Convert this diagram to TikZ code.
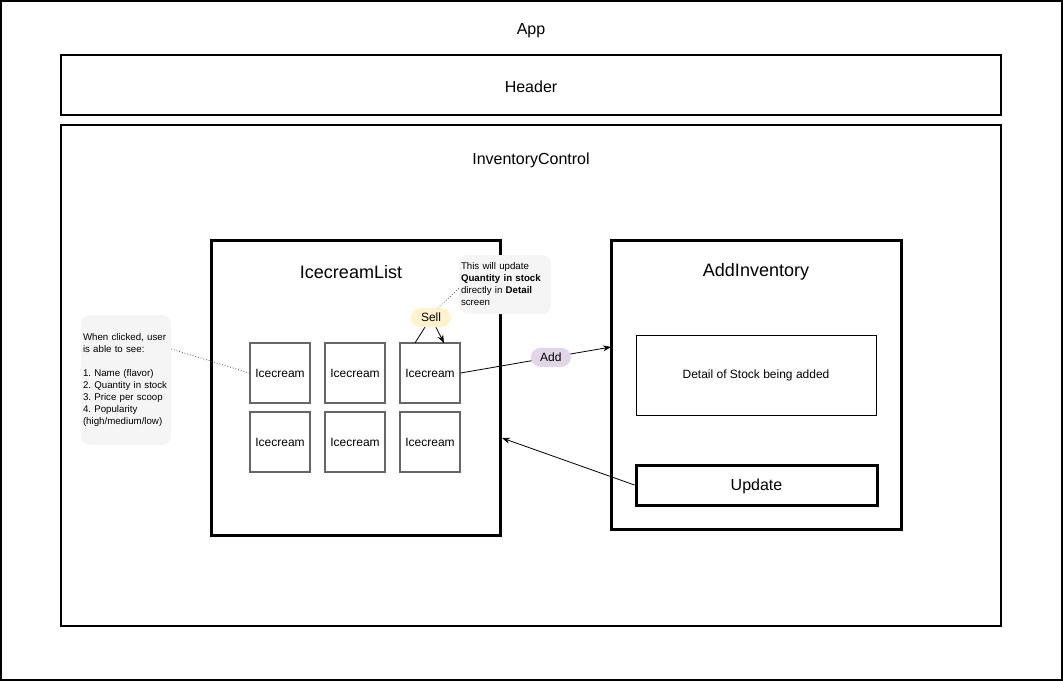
\documentclass[tikz,border=0pt]{standalone}
\usepackage{fontspec}
\setmainfont{Liberation Sans}
\usetikzlibrary{positioning,arrows.meta}
\definecolor{notegray}{HTML}{F5F5F5}
\definecolor{sellyellow}{HTML}{FFF2CC}
\definecolor{addpurple}{HTML}{E1D5E7}

\begin{document}
\frenchspacing
\begin{tikzpicture}[x=1pt, y=-1pt, every node/.style={font=\fontsize{12}{14}\selectfont},
    frame/.style={draw, line width=2pt, inner sep=0pt},
    bigframe/.style={draw, line width=3pt, inner sep=0pt},
    title/.style={font=\fontsize{16}{19}\selectfont},
    icebox/.style={draw=black!60, line width=1.2pt, minimum width=60pt, minimum height=60pt, inner sep=0pt},
    note/.style={fill=notegray, rounded corners=9pt, align=left, inner sep=2pt,
        font=\fontsize{9.7}{12}\selectfont},
    badge/.style={rounded corners=9.5pt, minimum width=40pt, minimum height=19pt, inner sep=0pt},
    link/.style={-{Stealth[length=8pt,width=6pt]}, line width=0.8pt},
    hint/.style={dotted, line width=0.8pt, black!70}]
    \useasboundingbox (0,0) rectangle (1063,681);
    % containers
    \node[draw, line width=1.5pt, minimum width=1061pt, minimum height=679pt] (app) at (531.5,340.5) {};
    \node[title] (apptitle) at (531,30.5) {App};
    \node[frame, minimum width=940pt, minimum height=60pt] (header) at (531,85) {};
    \node[title] (headertitle) at (531,87) {Header};
    \node[frame, minimum width=940pt, minimum height=501pt] (inventory) at (531,375.5) {};
    \node[title] (inventorytitle) at (531,160) {InventoryControl};
    \node[bigframe, minimum width=289pt, minimum height=295pt] (icelist) at (355.5,387.5) {};
    \node[font=\fontsize{18}{21}\selectfont] (icelisttitle) at (351,272) {IcecreamList};
    \node[bigframe, minimum width=290pt, minimum height=289pt] (addinv) at (756,384.5) {};
    \node[font=\fontsize{18}{21}\selectfont] (addinvtitle) at (756,272) {AddInventory};
    % icecreams
    \foreach \x/\n in {280/1,355/2,430/3} {
        \node[icebox] (top\n) at (\x,373) {Icecream};
        \node[icebox] (bot\n) at (\x,442) {Icecream};
    }
    \node[draw, line width=1pt, minimum width=240pt, minimum height=80pt] (detail) at (756,375) {Detail of Stock being added};
    \node[bigframe, minimum width=241pt, minimum height=40pt] (update) at (756.5,485) {};
    \node[title] (updatetitle) at (756.5,486) {Update};
    % notes
    \node[note, text width=86pt, minimum height=130pt] (leftnote) at (126,380) {When clicked, user\\is able to see:\\[12pt]1. Name (flavor)\\2. Quantity in stock\\3. Price per scoop\\4. Popularity\\(high/medium/low)};
    \node[note, text width=88pt, minimum height=59pt] (topnote) at (505,284.5) {This will update\\\textbf{Quantity in stock}\\directly in \textbf{Detail}\\screen};
    % connectors
    \coordinate (sellfrom) at (415,343);
    \coordinate (sellto) at (444,343);
    \coordinate (addto) at (611,347);
    \coordinate (updateto) at (502,438);
    \draw[line width=0.8pt] (sellfrom) -- (431,317.5);
    \draw[link] (431,317.5) -- (sellto);
    \node[badge, fill=sellyellow] (sell) at (431,317.5) {Sell};
    \draw[link] (top3.east) -- (addto) node[pos=0.6, badge, fill=addpurple] (add) {Add};
    \draw[link] (update.west) -- (updateto);
    \draw[hint] ([yshift=31pt]leftnote.east) -- (top1.west);
    \draw[hint] ([yshift=-4pt]topnote.west) -- ([xshift=7pt]sell.north);
\end{tikzpicture}
\end{document}
